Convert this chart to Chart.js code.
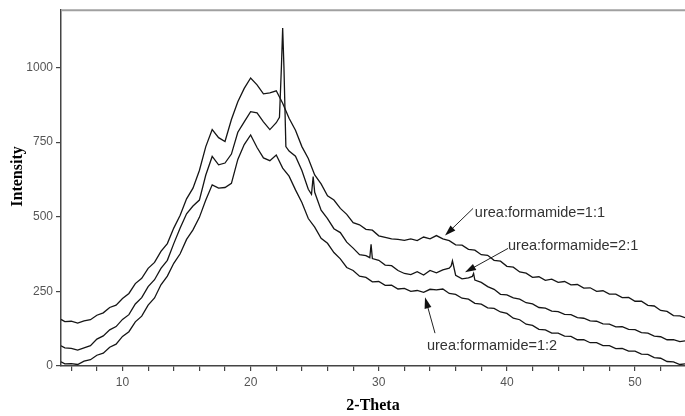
<!DOCTYPE html>
<html>
<head>
<meta charset="utf-8">
<script src="https://cdn.jsdelivr.net/npm/chart.js@4/dist/chart.umd.min.js"></script>
<style>
html,body{margin:0;padding:0;background:#fff;}
#wrap{width:685px;height:416px;}
</style>
</head>
<body>
<div id="wrap"><canvas id="c" width="685" height="416"></canvas></div>
<script>
// 2-Theta sampling grid
const theta = [
  5.2, 5.5, 6, 6.5, 7, 7.5, 8, 8.5, 9, 9.5,
  10, 10.5, 11, 11.5, 12, 12.5, 13, 13.5, 14, 14.5,
  15, 15.5, 16, 16.5, 17, 17.5, 18, 18.5, 19, 19.5,
  20, 20.5, 21, 21.5, 22, 22.5, 23, 23.5, 24, 24.5,
  25, 25.5, 26, 26.5, 27, 27.5, 28, 28.5, 29, 29.5,
  30, 30.5, 31, 31.5, 32, 32.5, 33, 33.5, 34, 34.5,
  35, 35.5, 36, 36.5, 37, 37.5, 38, 38.5, 39, 39.5,
  40, 40.5, 41, 41.5, 42, 42.5, 43, 43.5, 44, 44.5,
  45, 45.5, 46, 46.5, 47, 47.5, 48, 48.5, 49, 49.5,
  50, 50.5, 51, 51.5, 52, 52.5, 53, 53.5, 53.9
];
// urea:formamide = 1:1
const ratio11 = [
  156,149,150,144,151,155,170,178,196,204,
  226,243,276,294,327,347,384,410,462,505,
  560,596,655,735,792,765,752,826,885,930,
  965,942,912,915,922,880,830,790,735,695,
  640,610,570,556,528,508,480,473,458,455,
  436,431,426,424,421,426,420,432,426,437,
  426,420,406,405,391,388,373,371,354,351,
  334,331,315,311,297,299,287,291,280,283,
  272,273,261,262,250,252,241,241,229,230,
  217,217,203,201,186,183,169,168,162
];
// urea:formamide = 2:1
const ratio21 = [
  68,61,59,53,61,68,90,101,121,132,
  156,172,208,229,266,289,327,354,410,462,
  510,536,556,640,702,674,680,710,783,818,
  852,848,818,792,815,1132,720,703,655,592,
  582,522,494,460,447,415,395,373,370,360,
  354,338,336,320,310,306,316,305,320,312,
  322,328,304,292,295,288,280,266,257,240,
  238,228,224,212,208,196,194,184,182,173,
  172,162,160,151,150,141,140,131,132,123,
  122,112,110,100,98,88,88,82,84
];
// sharp reflections of the 2:1 pattern
const peakTheta21 = [22.25, 22.4, 22.6, 22.75, 24.75, 24.88, 29.3, 29.4, 35.65, 35.75, 37.3, 37.4];
const peakVals21  = [833, 1000, 1000, 735, 575, 635, 363, 408, 335, 352, 300, 310];
// urea:formamide = 1:2
const ratio12 = [
  14,7,8,5,16,21,36,43,63,73,
  99,115,148,167,204,228,272,301,344,376,
  424,456,498,556,607,596,598,612,692,742,
  774,732,697,688,707,663,636,590,548,494,
  465,428,411,380,359,330,320,301,297,282,
  283,270,271,258,260,250,253,247,257,255,
  258,243,240,227,224,210,207,195,193,181,
  176,160,155,140,136,123,121,110,110,100,
  99,88,88,78,78,68,68,58,59,50,
  50,40,39,28,26,15,14,5,7
];
const seriesNames = ['urea:formamide=1:1', 'urea:formamide=2:1', 'urea:formamide=1:2'];
// annotation anchors in data units: [text theta, text value, tail theta, tail value, head theta, head value]
const labelAnchors = [
  [37.5, 511, 37.36, 528, 35.17, 437],
  [40.09, 401, 40.09, 394, 36.73, 314],
  [33.76, 67, 34.39, 110, 33.61, 230]
];
const xTicks = [6, 8, 10, 12, 14, 16, 18, 20, 22, 24, 26, 28, 30, 32, 34, 36, 38, 40, 42, 44, 46, 48, 50, 52];
const xLabelled = [10, 20, 30, 40, 50];
const yTicks = [0, 250, 500, 750, 1000];
const yTitle = 'Intensity';
const yTitleCenterValue = 635; // axis title centred at this intensity level

function toPoints(xs, ys, ex, ey) {
  const pts = xs.map((x, i) => ({x: x, y: ys[i]}));
  if (ex) ex.forEach((x, i) => pts.push({x: x, y: ey[i]}));
  pts.sort((a, b) => a.x - b.x);
  return pts;
}

const lineStyle = {borderColor: '#151515', borderWidth: 1.3, pointRadius: 0, tension: 0, fill: false};

const annotPlugin = {
  id: 'annot',
  afterDraw(chart) {
    const ctx = chart.ctx;
    const xs = chart.scales.x, ys = chart.scales.y;
    const ca = chart.chartArea;
    ctx.save();
    // top frame line
    ctx.strokeStyle = '#a0a0a0';
    ctx.lineWidth = 2;
    ctx.beginPath();
    ctx.moveTo(ca.left, ca.top);
    ctx.lineTo(ca.right, ca.top);
    ctx.stroke();
    // y axis title
    ctx.save();
    ctx.translate(18, ys.getPixelForValue(yTitleCenterValue));
    ctx.rotate(-Math.PI / 2);
    ctx.font = 'bold 16px "Liberation Serif", "Times New Roman", serif';
    ctx.fillStyle = '#000';
    ctx.textAlign = 'center';
    ctx.textBaseline = 'middle';
    ctx.fillText(yTitle, 0, 0);
    ctx.restore();
    // series labels with arrows
    ctx.font = '14.5px "Liberation Sans", Arial, sans-serif';
    ctx.textBaseline = 'middle';
    ctx.textAlign = 'left';
    labelAnchors.forEach((a, i) => {
      const tx = xs.getPixelForValue(a[0]), ty = ys.getPixelForValue(a[1]);
      ctx.fillStyle = '#333';
      ctx.fillText(seriesNames[i], tx, ty);
      const x1 = xs.getPixelForValue(a[2]), y1 = ys.getPixelForValue(a[3]);
      const x2 = xs.getPixelForValue(a[4]), y2 = ys.getPixelForValue(a[5]);
      const ang = Math.atan2(y2 - y1, x2 - x1);
      const hl = 11, hw = 3.5;
      ctx.strokeStyle = '#222';
      ctx.lineWidth = 1;
      ctx.beginPath();
      ctx.moveTo(x1, y1);
      ctx.lineTo(x2 - Math.cos(ang) * hl * 0.8, y2 - Math.sin(ang) * hl * 0.8);
      ctx.stroke();
      ctx.fillStyle = '#111';
      ctx.beginPath();
      ctx.moveTo(x2, y2);
      ctx.lineTo(x2 - Math.cos(ang) * hl - Math.sin(ang) * hw, y2 - Math.sin(ang) * hl + Math.cos(ang) * hw);
      ctx.lineTo(x2 - Math.cos(ang) * hl + Math.sin(ang) * hw, y2 - Math.sin(ang) * hl - Math.cos(ang) * hw);
      ctx.closePath();
      ctx.fill();
    });
    ctx.restore();
  }
};

new Chart(document.getElementById('c'), {
  type: 'line',
  data: {
    datasets: [
      Object.assign({label: seriesNames[0], data: toPoints(theta, ratio11)}, lineStyle),
      Object.assign({label: seriesNames[1], data: toPoints(theta, ratio21, peakTheta21, peakVals21)}, lineStyle),
      Object.assign({label: seriesNames[2], data: toPoints(theta, ratio12)}, lineStyle)
    ]
  },
  options: {
    responsive: false,
    animation: false,
    devicePixelRatio: 1,
    layout: {padding: {top: 9, right: 0, bottom: 0, left: 0}},
    plugins: {legend: {display: false}, tooltip: {enabled: false}},
    scales: {
      x: {
        type: 'linear',
        min: 5.2, max: 53.9,
        afterFit(s) { s.height = 50; },
        afterBuildTicks(s) { s.ticks = xTicks.map(v => ({value: v})); },
        border: {display: true, color: '#444', width: 1.5},
        grid: {display: true, drawOnChartArea: false, drawTicks: true, tickLength: 5, color: '#444', lineWidth: 1.2},
        ticks: {
          autoSkip: false, maxRotation: 0,
          padding: 4, color: '#555',
          font: {family: '"Liberation Sans", Arial, sans-serif', size: 12},
          callback: v => (xLabelled.includes(v) ? String(v) : '')
        },
        title: {display: true, text: '2-Theta', color: '#000',
          font: {family: '"Liberation Serif", "Times New Roman", serif', size: 16, weight: 'bold'},
          padding: {top: 0, bottom: 1}}
      },
      y: {
        min: 0, max: 1192,
        afterFit(s) { s.width = 61; },
        afterBuildTicks(s) { s.ticks = yTicks.map(v => ({value: v})); },
        border: {display: true, color: '#444', width: 1.5},
        grid: {display: true, drawOnChartArea: false, drawTicks: true, tickLength: 5, color: '#444', lineWidth: 1.2},
        ticks: {
          autoSkip: false, padding: 3, color: '#555',
          font: {family: '"Liberation Sans", Arial, sans-serif', size: 12},
          callback: v => String(v)
        },
        title: {display: false}
      }
    }
  },
  plugins: [annotPlugin]
});
</script>
</body>
</html>
